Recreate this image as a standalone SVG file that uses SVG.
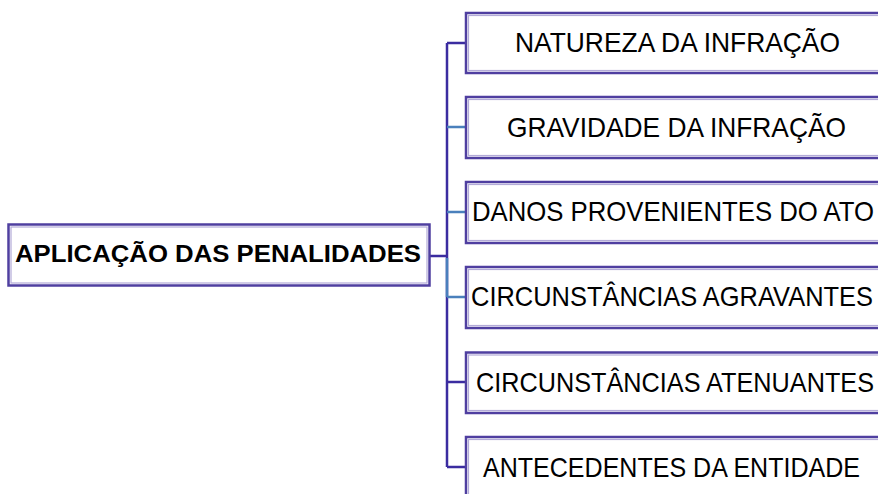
<svg xmlns="http://www.w3.org/2000/svg" width="878" height="494" viewBox="0 0 878 494">
<style>
.box{fill:#fff;stroke:#4F3FA0;stroke-width:2.5}
.inner{fill:none;stroke:#B3ABD8;stroke-width:1.2}
.t{font-family:"Liberation Sans",Arial,sans-serif;font-size:27.5px;fill:#000}
.rt{font-family:"Liberation Sans",Arial,sans-serif;font-size:24px;font-weight:bold;fill:#000}
.cp{fill:none;stroke:#3B2CA0;stroke-width:2.5}
.ct{fill:none;stroke:#4A80BC;stroke-width:2.5}
</style>
<rect width="878" height="494" fill="#fff"/>
<g id="connectors">
<path class="cp" d="M430 256H447M447 43V467M447 43H466M447 382H466M447 467H466"/>
<path class="ct" d="M447 258V297M447 127H466M447 212H466M447 297H466"/>
</g>
<g id="root">
<rect class="box" x="8.5" y="224.5" width="421" height="61"/>
<rect class="inner" x="11" y="227" width="416" height="56"/>
<text class="rt" x="15" y="262" textLength="406" lengthAdjust="spacingAndGlyphs">APLICAÇÃO DAS PENALIDADES</text>
</g>
<g id="n1">
<rect class="box" x="466" y="13" width="420" height="60"/>
<rect class="inner" x="468.5" y="15.5" width="420" height="55"/>
<text class="t" x="515" y="52" textLength="325" lengthAdjust="spacingAndGlyphs">NATUREZA DA INFRAÇÃO</text>
</g>
<g id="n2">
<rect class="box" x="466" y="97" width="420" height="61"/>
<rect class="inner" x="468.5" y="99.5" width="420" height="56"/>
<text class="t" x="507" y="136.5" textLength="339" lengthAdjust="spacingAndGlyphs">GRAVIDADE DA INFRAÇÃO</text>
</g>
<g id="n3">
<rect class="box" x="466" y="182" width="420" height="61"/>
<rect class="inner" x="468.5" y="184.5" width="420" height="56"/>
<text class="t" x="472" y="220.5" textLength="402" lengthAdjust="spacingAndGlyphs">DANOS PROVENIENTES DO ATO</text>
</g>
<g id="n4">
<rect class="box" x="466" y="267" width="420" height="61"/>
<rect class="inner" x="468.5" y="269.5" width="420" height="56"/>
<text class="t" x="471" y="306" textLength="402" lengthAdjust="spacingAndGlyphs">CIRCUNSTÂNCIAS AGRAVANTES</text>
</g>
<g id="n5">
<rect class="box" x="466" y="352.5" width="420" height="60.5"/>
<rect class="inner" x="468.5" y="355" width="420" height="55.5"/>
<text class="t" x="476" y="392" textLength="398" lengthAdjust="spacingAndGlyphs">CIRCUNSTÂNCIAS ATENUANTES</text>
</g>
<g id="n6">
<rect class="box" x="466" y="437" width="420" height="70"/>
<rect class="inner" x="468.5" y="439.5" width="420" height="65"/>
<text class="t" x="483" y="477" textLength="377" lengthAdjust="spacingAndGlyphs">ANTECEDENTES DA ENTIDADE</text>
</g>
</svg>
